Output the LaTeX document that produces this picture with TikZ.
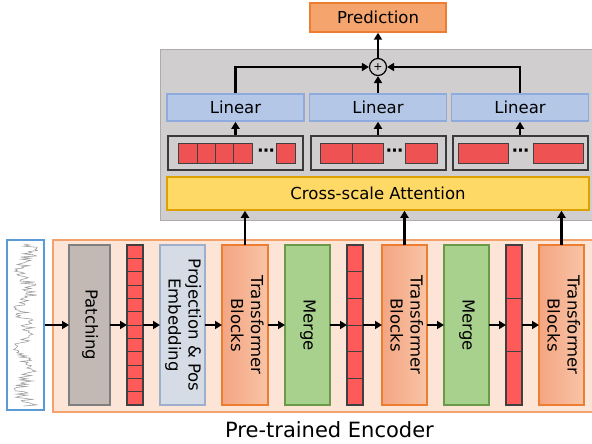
\documentclass[tikz,border=0pt]{standalone}
\usepackage{fontspec}
\setmainfont{DejaVu Sans}
\usepackage{graphicx}
\usetikzlibrary{positioning,arrows.meta,calc}

\definecolor{predfill}{HTML}{F4A46C}
\definecolor{predline}{HTML}{ED7D31}
\definecolor{panelgray}{HTML}{D0CECE}
\definecolor{panelline}{HTML}{AFABAB}
\definecolor{linfill}{HTML}{B4C7E7}
\definecolor{linline}{HTML}{8FAADC}
\definecolor{tokline}{HTML}{3A3A3A}
\definecolor{cellline}{HTML}{404040}
\definecolor{tokred}{HTML}{EE5253}
\definecolor{colred}{HTML}{FF5A5A}
\definecolor{attfill}{HTML}{FFD966}
\definecolor{attline}{HTML}{DDA200}
\definecolor{encfill}{HTML}{FCE4D6}
\definecolor{encline}{HTML}{F4A26B}
\definecolor{patchfill}{HTML}{C2B9B5}
\definecolor{patchline}{HTML}{7F7F7F}
\definecolor{projfill}{HTML}{D6DCE5}
\definecolor{projline}{HTML}{9DAFCB}
\definecolor{tbleft}{HTML}{F4A582}
\definecolor{tbright}{HTML}{F8C4A6}
\definecolor{tbline}{HTML}{ED7D31}
\definecolor{mergefill}{HTML}{A9D18E}
\definecolor{mergeline}{HTML}{6A9A48}
\definecolor{serline}{HTML}{5B9BD5}

% rotated (top to bottom) text for the tall encoder blocks
\newcommand{\vtext}[1]{\rotatebox{-90}{\begin{tabular}{@{}c@{}}#1\end{tabular}}}

\tikzstyle{panel} = [draw=panelline, fill=panelgray, rectangle, line width=1pt, inner sep=0pt]
\tikzstyle{enc} = [draw=encline, fill=encfill, rectangle, line width=1.5pt, inner sep=0pt]
\tikzstyle{pred} = [draw=predline, fill=predfill, rectangle, line width=1.5pt,
    minimum width=136pt, minimum height=29pt, inner sep=0pt]
\tikzstyle{linear} = [draw=linline, fill=linfill, rectangle, line width=1.5pt,
    minimum width=137pt, minimum height=27pt, inner sep=0pt]
\tikzstyle{tokens} = [draw=tokline, fill=panelgray, rectangle, line width=2pt,
    minimum width=135pt, minimum height=34pt, inner sep=0pt]
\tikzstyle{cell} = [draw=cellline, fill=tokred, rectangle, line width=1pt,
    minimum height=20pt, inner sep=0pt]
\tikzstyle{dots} = [inner sep=0pt, font=\fontsize{17}{17}\selectfont\bfseries]
\tikzstyle{attn} = [draw=attline, fill=attfill, rectangle, line width=1.5pt,
    minimum width=422pt, minimum height=33pt, inner sep=0pt]
\tikzstyle{sum} = [draw, fill=panelgray, circle, line width=1.2pt, minimum size=17pt,
    inner sep=0pt, font=\fontsize{11}{11}\selectfont]
\tikzstyle{tall} = [rectangle, line width=1.5pt, minimum width=45pt, minimum height=160pt,
    inner sep=0pt, outer sep=0pt]
\tikzstyle{patching} = [tall, draw=patchline, fill=patchfill, minimum width=41pt]
\tikzstyle{proj} = [tall, draw=projline, fill=projfill]
\tikzstyle{transf} = [tall, draw=tbline, left color=tbleft, right color=tbright]
\tikzstyle{merge} = [tall, draw=mergeline, fill=mergefill]
\tikzstyle{patchcol} = [draw=cellline, fill=colred, rectangle, line width=1.2pt,
    minimum width=16pt, minimum height=160pt, inner sep=0pt, outer sep=0pt]
\tikzstyle{series} = [draw=serline, fill=white, rectangle, line width=1.5pt,
    minimum width=37pt, minimum height=170pt, inner sep=0pt]
\tikzstyle{arr} = [line width=2.6pt, -{Triangle[length=7pt,width=8pt]}]

\begin{document}
\begin{tikzpicture}[x=1pt, y=-1pt, node distance=17pt, font=\fontsize{16.5}{20}\selectfont]
    \useasboundingbox (0,0) rectangle (592,444);
    % background panels
    \node [enc, minimum width=542pt, minimum height=172pt] (encoder) at (324,326) {};
    \node [panel, minimum width=434pt, minimum height=170pt] (head) at (377,135) {};

    % input series
    \node [series] (series) at (25.5,325) {};
    \pgfmathsetseed{42}
    \draw [gray!75, line width=0.6pt] plot [domain=244:406, samples=150, variable=\t]
        ({25.5+5*sin(9*\t)+8*rand}, \t);

    % encoder
    \node [patching] (patch) at (89.5,325) {\vtext{Patching}};
    \node [patchcol, right=of patch] (col1) {};
    \node [proj, right=of col1] (proj) {\vtext{Projection \& Pos\\Embedding}};
    \node [transf, right=of proj, minimum width=46pt] (tb1) {\vtext{Transformer\\Blocks}};
    \node [merge, right=of tb1] (merge1) {\vtext{Merge}};
    \node [patchcol, right=of merge1] (col2) {};
    \node [transf, right=19pt of col2] (tb2) {\vtext{Transformer\\Blocks}};
    \node [merge, right=of tb2] (merge2) {\vtext{Merge}};
    \node [patchcol, right=of merge2] (col3) {};
    \node [transf, right=of col3] (tb3) {\vtext{Transformer\\Blocks}};
    \node (enclabel) [anchor=base, font=\fontsize{21}{21}\selectfont] at (329.5,437) {Pre-trained Encoder};

    \foreach \k in {1,...,11}
        \draw [cellline, line width=1pt] ($(col1.north west)!\k/12!(col1.south west)$) -- ($(col1.north east)!\k/12!(col1.south east)$);
    \foreach \k in {1,...,5}
        \draw [cellline, line width=1pt] ($(col2.north west)!\k/6!(col2.south west)$) -- ($(col2.north east)!\k/6!(col2.south east)$);
    \foreach \k in {1,2}
        \draw [cellline, line width=1pt] ($(col3.north west)!\k/3!(col3.south west)$) -- ($(col3.north east)!\k/3!(col3.south east)$);

    % head
    \node [attn] (attn) at (378,193.5) {Cross-scale Attention};
    \node [tokens] (tok1) at (235.5,152.5) {};
    \node [tokens] (tok2) at (378,152.5) {};
    \node [tokens] (tok3) at (520,152.5) {};
    \foreach \i in {0,...,3}
        \node [cell, minimum width=18.3pt, anchor=west] (a\i) at ({178.3+18.3*\i},153) {};
    \node [dots] (adots) at (266,153) {\symbol{"22EF}};
    \node [cell, minimum width=18.5pt, anchor=west] (alast) at (276,153) {};
    \foreach \i in {0,1}
        \node [cell, minimum width=31.7pt, anchor=west] (b\i) at ({320+31.7*\i},153) {};
    \node [dots] (bdots) at (394.5,153) {\symbol{"22EF}};
    \node [cell, minimum width=32pt, anchor=west] (blast) at (405,153) {};
    \node [cell, minimum width=50pt, anchor=west] (c0) at (458,153) {};
    \node [dots] (cdots) at (520.5,153) {\symbol{"22EF}};
    \node [cell, minimum width=50pt, anchor=west] (clast) at (533.3,153) {};

    \node [linear] (lin1) at (235.5,107.5) {Linear};
    \node [linear] (lin2) at (378,107.5) {Linear};
    \node [linear] (lin3) at (520,107.5) {Linear};
    \node [sum] (plus) at (378,67) {+};
    \node [pred] (pred) at (378,17.5) {Prediction};

    % connections
    \draw [arr] (series) -- (patch);
    \draw [arr] (patch) -- (col1);
    \draw [arr] (col1) -- (proj);
    \draw [arr] (proj) -- (tb1);
    \draw [arr] (tb1) -- (merge1);
    \draw [arr] (merge1) -- (col2);
    \draw [arr] (col2) -- (tb2);
    \draw [arr] (tb2) -- (merge2);
    \draw [arr] (merge2) -- (col3);
    \draw [arr] (col3) -- (tb3);
    \draw [arr] (tb1.north) -- (tb1.north |- attn.south);
    \draw [arr] (tb2.north) -- (tb2.north |- attn.south);
    \draw [arr] (tb3.north) -- (tb3.north |- attn.south);
    \draw [arr] (tok1) -- (lin1);
    \draw [arr] (tok2) -- (lin2);
    \draw [arr] (tok3) -- (lin3);
    \draw [arr] (lin1.north) |- (plus.west);
    \draw [arr] (lin3.north) |- (plus.east);
    \draw [arr] (lin2) -- (plus);
    \draw [arr] (plus) -- (pred);
\end{tikzpicture}
\end{document}
